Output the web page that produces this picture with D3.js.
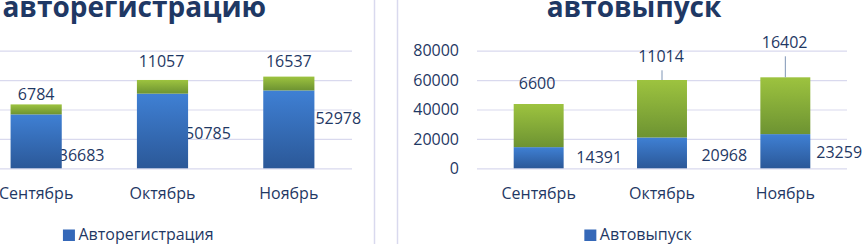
<!DOCTYPE html>
<html>
<head>
<meta charset="utf-8">
<script src="https://cdn.jsdelivr.net/npm/d3@7"></script>
<style>
  body { margin: 0; background: #fff; }
  svg { display: block; font-family: 'Open Sans', sans-serif; }
</style>
</head>
<body>
<svg id="chart" width="863" height="244"></svg>
<script>
// data
const months = ['Сентябрь', 'Октябрь', 'Ноябрь']
const yTicks = [0, 20000, 40000, 60000, 80000]

const regBlue = [36683, 50785, 52978]
const regGreen = [6784, 9300, 9400]
const regTopLabels = [6784, 11057, 16537]

const outBlue = [14391, 20968, 23259]
const outGreen = [29350, 39100, 38640]
const outTopLabels = [6600, 11014, 16402]

const textColor = '#1f3864'
const gridColor = '#d9d9ee'

let svg = d3.select('#chart')

let defs = svg.append('defs')
function gradient(id, top, bottom) {
  let g = defs.append('linearGradient')
    .attr('id', id)
    .attr('x1', 0).attr('y1', 0).attr('x2', 0).attr('y2', 1)
  g.append('stop').attr('offset', 0).attr('stop-color', top)
  g.append('stop').attr('offset', 1).attr('stop-color', bottom)
}
gradient('blue', '#3f80d4', '#2b5898')
gradient('green', '#9dc33f', '#6d9332')

let y = d3.scaleLinear()
  .domain([0, 80000])
  .range([168.3, 50.7])

// panel borders
svg.append('line')
  .attr('x1', 374.5).attr('x2', 374.5).attr('y1', 0).attr('y2', 244)
  .attr('stroke', gridColor).attr('stroke-width', 1.5)
svg.append('line')
  .attr('x1', 397.5).attr('x2', 397.5).attr('y1', 0).attr('y2', 244)
  .attr('stroke', gridColor).attr('stroke-width', 1.5)

drawChart({
  title: 'авторегистрацию',
  legend: 'Авторегистрация',
  cx: 134.3,
  range: [-27, 352],
  showValues: false,   // value axis of this panel lies off the picture
  blue: regBlue,
  green: regGreen,
  topLabels: regTopLabels,
  // manual label nudges, as moved by hand in the original
  topNudge: [[0, 1.6], [-1, -7.3], [0, -3.9]],
  sideNudge: [[-5, 13.7], [-5, 2.3], [-1, -10.7]]
})

drawChart({
  title: 'автовыпуск',
  legend: 'Автовыпуск',
  cx: 634,
  range: [477, 847],
  showValues: true,
  blue: outBlue,
  green: outGreen,
  topLabels: outTopLabels,
  topNudge: [[-1.6, -9], [-1, -11.7], [-0.7, -23]],
  sideNudge: [[10.7, 0], [12.4, 2.4], [4, 1.4]]
})

function drawChart(cfg) {
  let g = svg.append('g')

  let x = d3.scaleBand()
    .domain(months)
    .range(cfg.range)
    .paddingInner(0.595)
    .paddingOuter(0.2975)

  let w = cfg.range[1] - cfg.range[0]

  // title
  g.append('text')
    .attr('x', cfg.cx)
    .attr('y', 16.5)
    .attr('text-anchor', 'middle')
    .attr('font-size', 28)
    .attr('font-weight', 'bold')
    .attr('fill', textColor)
    .text(cfg.title)

  // grid + value axis
  let yAxis = g.append('g')
    .attr('transform', `translate(${cfg.range[0]},0)`)
    .call(d3.axisLeft(y)
      .tickValues(yTicks)
      .tickSize(-w)
      .tickPadding(18)
      .tickFormat(cfg.showValues ? d3.format('d') : ''))
  yAxis.select('.domain').remove()
  yAxis.selectAll('line').attr('stroke', gridColor).attr('stroke-width', 1.2)
  yAxis.selectAll('text')
    .attr('font-family', 'Open Sans')
    .attr('font-size', 16)
    .attr('fill', textColor)
  if (!cfg.showValues) yAxis.selectAll('text').remove()

  // category axis
  let xAxis = g.append('g')
    .attr('transform', `translate(0,${y(0)})`)
    .call(d3.axisBottom(x).tickSize(0).tickPadding(19))
  xAxis.select('.domain').remove()
  xAxis.selectAll('text')
    .attr('font-family', 'Open Sans')
    .attr('font-size', 16)
    .attr('fill', textColor)

  // side labels (blue values) sit under the bars
  g.selectAll('.side')
    .data(cfg.blue)
    .enter().append('text')
      .attr('class', 'side')
      .attr('x', (d, i) => x(months[i]) + x.bandwidth() + 2 + cfg.sideNudge[i][0])
      .attr('y', (d, i) => (y(0) + y(d)) / 2 + 5.7 + cfg.sideNudge[i][1])
      .attr('font-size', 16)
      .attr('fill', textColor)
      .text(d => d)

  // stacked bars
  g.selectAll('.bar-blue')
    .data(cfg.blue)
    .enter().append('rect')
      .attr('class', 'bar-blue')
      .attr('x', (d, i) => x(months[i]))
      .attr('width', x.bandwidth())
      .attr('y', d => y(d))
      .attr('height', d => y(0) - y(d))
      .attr('fill', 'url(#blue)')

  g.selectAll('.bar-green')
    .data(cfg.green)
    .enter().append('rect')
      .attr('class', 'bar-green')
      .attr('x', (d, i) => x(months[i]))
      .attr('width', x.bandwidth())
      .attr('y', (d, i) => y(cfg.blue[i] + d))
      .attr('height', (d, i) => y(cfg.blue[i]) - y(cfg.blue[i] + d))
      .attr('fill', 'url(#green)')

  // top labels, with leader lines where moved far from the bar
  let tops = cfg.green.map((d, i) => y(cfg.blue[i] + d))
  g.selectAll('.top')
    .data(cfg.topLabels)
    .enter().append('text')
      .attr('class', 'top')
      .attr('x', (d, i) => x(months[i]) + x.bandwidth() / 2 + cfg.topNudge[i][0])
      .attr('y', (d, i) => tops[i] - 6 + cfg.topNudge[i][1])
      .attr('text-anchor', 'middle')
      .attr('font-size', 16)
      .attr('fill', textColor)
      .text(d => d)

  g.selectAll('.leader')
    .data(cfg.topLabels.map((d, i) => i).filter(i => cfg.topNudge[i][1] < -10))
    .enter().append('line')
      .attr('class', 'leader')
      .attr('x1', i => x(months[i]) + x.bandwidth() / 2)
      .attr('x2', i => x(months[i]) + x.bandwidth() / 2)
      .attr('y1', i => tops[i] - 6 + cfg.topNudge[i][1] + 8)
      .attr('y2', i => tops[i])
      .attr('stroke', '#7f95b5')
      .attr('stroke-width', 1)

  // legend
  let lg = g.append('g')
  let lt = lg.append('text')
    .attr('y', 239.5)
    .attr('font-size', 16)
    .attr('fill', textColor)
    .text(cfg.legend)
  let tw = lt.node().getComputedTextLength()
  let total = 12 + 3.5 + tw
  let lx = cfg.cx + 4 - total / 2
  lg.append('rect')
    .attr('x', lx)
    .attr('y', 229.5)
    .attr('width', 12)
    .attr('height', 11.5)
    .attr('fill', '#3568b8')
  lt.attr('x', lx + 15.5)
}
</script>
</body>
</html>
